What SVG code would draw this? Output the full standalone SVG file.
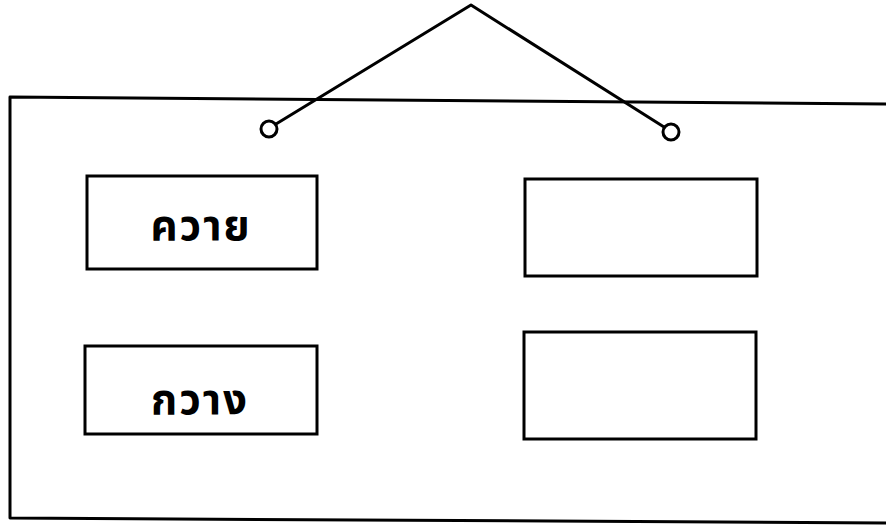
<svg xmlns="http://www.w3.org/2000/svg" width="886" height="526" viewBox="0 0 886 526">
<style>
.ln{fill:none;stroke:#000;stroke-width:3;stroke-linecap:round;stroke-linejoin:round}
.box{fill:#fff;stroke:#000;stroke-width:3}
.lbl{font-family:"Noto Sans Thai","Noto Sans","DejaVu Sans",sans-serif;font-weight:bold;font-size:42px;letter-spacing:2px;fill:#000;text-anchor:middle}
</style>
<rect width="886" height="526" fill="#fff"/>
<g id="board">
<polyline class="ln" points="886,104 10,97 10,518 886,523"/>
</g>
<g id="connectors">
<polyline class="ln" points="276,124 471,5 664,127"/>
</g>
<g id="hook-left"><circle class="ln" cx="269" cy="129" r="8"/></g>
<g id="hook-right"><circle class="ln" cx="671" cy="132" r="8"/></g>
<g id="node-1">
<rect class="box" x="87" y="176" width="230" height="93"/>
<text class="lbl" x="201" y="240">ควาย</text>
</g>
<g id="node-2">
<rect class="box" x="85" y="346" width="232" height="88"/>
<text class="lbl" x="200" y="414">กวาง</text>
</g>
<g id="node-3">
<rect class="box" x="525" y="179" width="232" height="97"/>
</g>
<g id="node-4">
<rect class="box" x="524" y="332" width="232" height="107"/>
</g>
</svg>
